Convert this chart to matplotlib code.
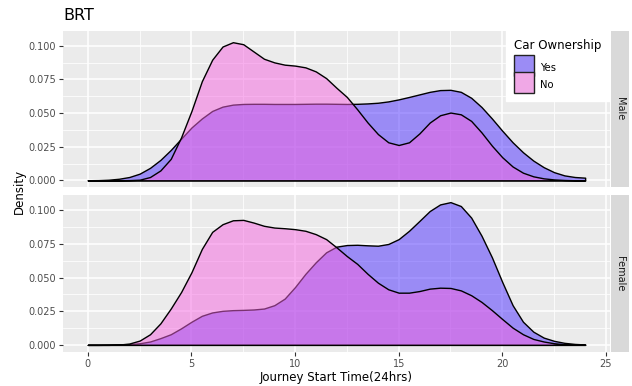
import numpy as np
import matplotlib.pyplot as plt
from matplotlib.patches import Patch, Rectangle
from matplotlib.legend_handler import HandlerPatch

# density of journey start time at half-hour steps
hours = np.arange(0, 24.5, 0.5)

male_yes = [0.0001, 0.0002, 0.0005, 0.0012, 0.0025, 0.0050, 0.0093, 0.0152, 0.0226, 0.0310,
            0.0393, 0.0460, 0.0516, 0.0548, 0.0563, 0.0568, 0.0569, 0.0569, 0.0568, 0.0568,
            0.0568, 0.0569, 0.0570, 0.0570, 0.0569, 0.0568, 0.0569, 0.0572, 0.0577, 0.0587,
            0.0602, 0.0620, 0.0639, 0.0658, 0.0671, 0.0673, 0.0658, 0.0614, 0.0545, 0.0460,
            0.0369, 0.0283, 0.0209, 0.0147, 0.0098, 0.0061, 0.0037, 0.0025, 0.0020]
male_no = [0.0, 0.0, 0.0, 0.0001, 0.0002, 0.0005, 0.0025, 0.0074, 0.0160, 0.0320,
           0.0516, 0.0737, 0.0897, 0.0995, 0.1027, 0.1012, 0.0958, 0.0904, 0.0877, 0.0860,
           0.0853, 0.0840, 0.0810, 0.0760, 0.0688, 0.0620, 0.0528, 0.0430, 0.0344, 0.0283,
           0.0263, 0.0283, 0.0349, 0.0430, 0.0484, 0.0504, 0.0491, 0.0442, 0.0356, 0.0258,
           0.0172, 0.0103, 0.0057, 0.0030, 0.0015, 0.0007, 0.0003, 0.0001, 0.0]
female_yes = [0.0, 0.0, 0.0001, 0.0002, 0.0005, 0.0012, 0.0025, 0.0050, 0.0079, 0.0123,
              0.0172, 0.0216, 0.0241, 0.0253, 0.0258, 0.0260, 0.0263, 0.0270, 0.0295, 0.0344,
              0.0430, 0.0528, 0.0614, 0.0688, 0.0730, 0.0742, 0.0744, 0.0740, 0.0737, 0.0750,
              0.0786, 0.0848, 0.0921, 0.0995, 0.1044, 0.1061, 0.1032, 0.0946, 0.0811, 0.0651,
              0.0467, 0.0295, 0.0172, 0.0098, 0.0054, 0.0030, 0.0015, 0.0007, 0.0003]
female_no = [0.0, 0.0, 0.0, 0.0002, 0.0010, 0.0032, 0.0079, 0.0160, 0.0270, 0.0393,
             0.0540, 0.0713, 0.0840, 0.0897, 0.0926, 0.0929, 0.0909, 0.0885, 0.0872, 0.0867,
             0.0860, 0.0848, 0.0823, 0.0786, 0.0725, 0.0660, 0.0602, 0.0528, 0.0462, 0.0413,
             0.0388, 0.0388, 0.0400, 0.0418, 0.0425, 0.0423, 0.0405, 0.0369, 0.0319, 0.0258,
             0.0192, 0.0128, 0.0079, 0.0044, 0.0025, 0.0012, 0.0005, 0.0002, 0.0001]

panels = ["Male", "Female"]
groups = ["Yes", "No"]
fill_colors = {"Yes": (75/255, 45/255, 1.0, 0.5), "No": (245/255, 101/255, 225/255, 0.5)}
key_colors = {"Yes": "#9B8CF5", "No": "#F0A8E6"}

W, H = 632, 386
fig = plt.figure(figsize=(W / 100, H / 100), dpi=100)


def box(l, t, r, b):
    # pixel box -> figure fraction
    return [l / W, 1 - b / H, (r - l) / W, (b - t) / H]


def full_key(legend, orig_handle, xdescent, ydescent, width, height, fontsize):
    # fill the whole handle box, like a ggplot legend key
    return Rectangle((-xdescent, -ydescent), width, height + ydescent)


ax_m = fig.add_axes(box(63, 30.5, 610, 187.5))
ax_f = fig.add_axes(box(63, 195, 610, 352))
data = {"Male": {"Yes": male_yes, "No": male_no},
        "Female": {"Yes": female_yes, "No": female_no}}

for ax, panel in zip([ax_m, ax_f], panels):
    ax.set_facecolor("#EBEBEB")
    for g in groups:
        ax.fill_between(hours, data[panel][g], facecolor=fill_colors[g],
                        edgecolor="black", linewidth=1.0, joinstyle="round")
    ax.set_xlim(-1.2, 25.2)
    ax.set_ylim(-0.0053, 0.1114)
    ax.set_xticks([0, 5, 10, 15, 20, 25])
    ax.set_xticks([2.5, 7.5, 12.5, 17.5, 22.5], minor=True)
    ax.set_yticks([0, 0.025, 0.05, 0.075, 0.1])
    ax.set_yticks([0.0125, 0.0375, 0.0625, 0.0875], minor=True)
    ax.yaxis.set_major_formatter("{x:.3f}")
    ax.grid(which="major", color="white", linewidth=1.1)
    ax.grid(which="minor", color="white", linewidth=0.55)
    ax.set_axisbelow(True)
    for s in ax.spines.values():
        s.set_visible(False)
    ax.tick_params(which="major", length=3, width=0.8, color="#333333",
                   labelsize=7, labelcolor="#4D4D4D", pad=2)
    ax.tick_params(which="minor", length=0)

    # facet strip on the right
    pos = ax.get_position()
    sax = fig.add_axes([pos.x1 + 0.5 / W, pos.y0, 18.5 / W, pos.height])
    sax.set_facecolor("#D9D9D9")
    sax.set_xticks([])
    sax.set_yticks([])
    for s in sax.spines.values():
        s.set_visible(False)
    sax.text(0.5, 0.5, panel, rotation=-90, ha="center", va="center",
             fontsize=7, color="#1A1A1A", transform=sax.transAxes)

ax_m.tick_params(axis="x", which="both", length=0, labelbottom=False)

handles = [Patch(facecolor=key_colors[g], edgecolor="#222222", linewidth=1.0, label=g)
           for g in groups]
leg = ax_m.legend(handles=handles, title="Car Ownership", loc="upper right",
                  bbox_to_anchor=(1.0, 1.003), borderaxespad=0, frameon=True,
                  fancybox=False, facecolor="white", edgecolor="white", framealpha=1,
                  fontsize=7.2, title_fontsize=8.5, handlelength=2.0, handleheight=2.05,
                  handletextpad=0.6, labelspacing=0.12, borderpad=0.85, alignment="left",
                  handler_map={Patch: HandlerPatch(patch_func=full_key)})
leg._legend_box.sep = 6  # gap between title and keys

fig.text(63 / W, 1 - 15.5 / H, "BRT", fontsize=11.5, ha="left", va="center")
fig.text(19 / W, 1 - 191 / H, "Density", fontsize=8.5, rotation=90, ha="center", va="center")
fig.text(336 / W, 1 - 378 / H, "Journey Start Time(24hrs)", fontsize=8.5,
         ha="center", va="center")

fig.savefig("out.png", dpi=100)
